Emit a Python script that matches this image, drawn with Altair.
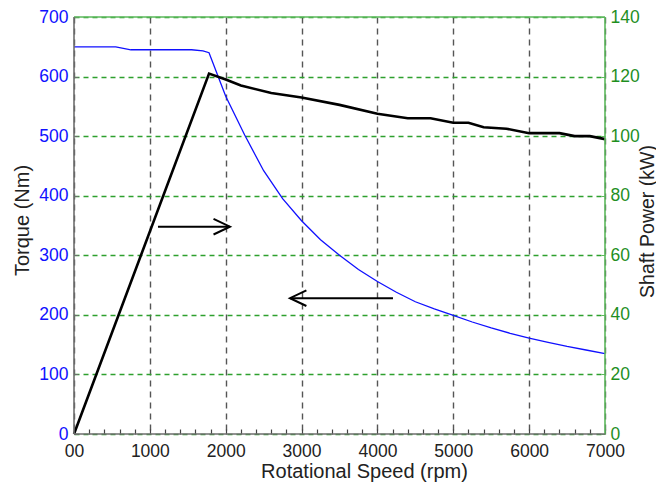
import altair as alt
import pandas as pd

# ---- data ----
torque_rpm = [0, 300, 550, 750, 1000, 1300, 1550, 1700, 1780, 1900, 2000, 2250, 2500, 2750,
              3000, 3250, 3500, 3750, 4000, 4250, 4500, 4750, 5000, 5250, 5500, 5750,
              6000, 6250, 6500, 6750, 7000]
torque_nm = [650, 650, 650, 645, 645, 645, 645, 643, 640, 600, 567, 502, 442, 395,
             358, 326, 300, 276, 256, 238, 222, 210, 199, 188, 178, 169,
             161, 154, 147, 141, 135]

power_rpm = [0, 1780, 2000, 2200, 2600, 3000, 3500, 4000, 4400, 4700, 5000, 5200, 5400,
             5700, 6000, 6400, 6600, 6800, 7000]
power_kw = [0, 121, 119, 117, 114.5, 113, 110.5, 107.5, 106, 106, 104.5, 104.5, 103,
            102.5, 101, 101, 100, 100, 99]

# arrows (rpm start, rpm tip, torque level)
arrow_id = ["right", "right", "left", "left"]
arrow_rpm = [1107, 2056, 4205, 2847]
arrow_torque = [348, 348, 228, 228]
tip_rpm = [2056, 2847]
tip_torque = [348, 228]
tip_angle = [0, 180]

x_major = [0, 1000, 2000, 3000, 4000, 5000, 6000, 7000]
x_minor = list(range(0, 7001, 200))
torque_ticks = [0, 100, 200, 300, 400, 500, 600, 700]
power_ticks = [0, 20, 40, 60, 80, 100, 120, 140]

W, H = 531, 417
FONT = "Liberation Sans"
BLUE = "#1010ff"
GREEN_TXT = "#1f8f1f"
GREEN_GRID = "#2ea02e"
GREEN_BORDER = "#5cb85c"
GRAY = "#6e6e6e"

df_t = pd.DataFrame({"rpm": torque_rpm, "torque": torque_nm})
df_p = pd.DataFrame({"rpm": power_rpm, "power": power_kw})
df_a = pd.DataFrame({"id": arrow_id, "rpm": arrow_rpm, "torque": arrow_torque})
df_tip = pd.DataFrame({"rpm": tip_rpm, "torque": tip_torque, "angle": tip_angle})

xs = alt.Scale(domain=[0, 7000], nice=False, zero=False)
ts = alt.Scale(domain=[0, 700], nice=False)
ps = alt.Scale(domain=[0, 140], nice=False)

main_x_axis = alt.Axis(
    values=x_major, title="Rotational Speed (rpm)", domain=False, ticks=False,
    grid=True, gridColor="#555555", gridDash=[6, 5], gridWidth=1.4,
    labelExpr="datum.value == 0 ? '00' : datum.label", format="d", labelFlush=False,
    labelFont=FONT, labelFontSize=17.5, labelColor="#222222", labelPadding=8,
    titleFont=FONT, titleFontSize=20, titleFontWeight="normal", titleColor="#222222",
    titleX=290, titleY=37, titleBaseline="middle", titleAnchor="start", titleAlign="center",
)
minor_x_axis = alt.Axis(
    values=x_minor, orient="bottom", offset=-5, domain=False, labels=False, grid=False,
    ticks=True, tickSize=5, tickColor="#444444", tickWidth=1.2, title=None,
)
left_axis = alt.Axis(
    values=torque_ticks, orient="left", domain=False, ticks=False, labelFlush=False,
    grid=True, gridColor=GREEN_GRID, gridDash=[5, 4], gridWidth=1.3,
    labelFont=FONT, labelFontSize=17.5, labelColor=BLUE, labelPadding=6,
    title="Torque (Nm)", titleFont=FONT, titleFontSize=20, titleFontWeight="normal",
    titleColor="#222222", titleAngle=270, titleX=-52, titleY=203,
    titleBaseline="middle", titleAlign="center",
)
left_tick_axis = alt.Axis(
    values=torque_ticks, orient="left", offset=-4, domain=False, labels=False, grid=False,
    ticks=True, tickSize=4, tickColor=GRAY, title=None,
)
right_axis = alt.Axis(
    values=power_ticks, orient="right", domain=False, ticks=False, grid=False, labelFlush=False,
    labelFont=FONT, labelFontSize=17.5, labelColor=GREEN_TXT, labelPadding=5,
    title="Shaft Power (kW)", titleFont=FONT, titleFontSize=19.5, titleFontWeight="normal",
    titleColor="#222222", titleAngle=270, titleX=42, titleY=204,
    titleBaseline="middle", titleAlign="center",
)
right_tick_axis = alt.Axis(
    values=power_ticks, orient="right", offset=-4, domain=False, labels=False, grid=False,
    ticks=True, tickSize=4, tickColor=GREEN_BORDER, title=None,
)

torque_line = alt.Chart(df_t).mark_line(color=BLUE, strokeWidth=1.3).encode(
    x=alt.X("rpm:Q", scale=xs, axis=main_x_axis),
    y=alt.Y("torque:Q", scale=ts, axis=left_axis),
)
power_line = alt.Chart(df_p).mark_line(color="black", strokeWidth=2.6).encode(
    x=alt.X("rpm:Q", scale=xs, axis=minor_x_axis),
    y=alt.Y("power:Q", scale=ps, axis=right_axis),
)
left_ticks = alt.Chart(df_t).mark_point(opacity=0).encode(
    x=alt.X("rpm:Q", scale=xs, axis=None),
    y=alt.Y("torque:Q", scale=ts, axis=left_tick_axis),
)
right_ticks = alt.Chart(df_p).mark_point(opacity=0).encode(
    x=alt.X("rpm:Q", scale=xs, axis=None),
    y=alt.Y("power:Q", scale=ps, axis=right_tick_axis),
)
arrow_lines = alt.Chart(df_a).mark_line(color="black", strokeWidth=2).encode(
    x=alt.X("rpm:Q", scale=xs, axis=None),
    y=alt.Y("torque:Q", scale=ts, axis=None),
    detail="id:N",
)
arrow_heads = alt.Chart(df_tip).mark_point(
    shape="M-2,-0.95L0,0L-2,0.95", filled=False, stroke="black", strokeWidth=2,
    size=270, opacity=1,
).encode(
    x=alt.X("rpm:Q", scale=xs, axis=None),
    y=alt.Y("torque:Q", scale=ts, axis=None),
    angle=alt.Angle("angle:Q", scale=None),
)

one = pd.DataFrame({"k": [0]})
def border(x, x2, y, y2, color):
    return alt.Chart(one).mark_rule(color=color, strokeWidth=1.6).encode(
        x=alt.value(x), x2=alt.value(x2), y=alt.value(y), y2=alt.value(y2)
    )

borders = [
    border(0, W, 0, 0, GREEN_BORDER),
    border(W, W, 0, H, GREEN_BORDER),
    border(0, 0, 0, H, GRAY),
    border(0, W, H, H, GRAY),
]

chart = alt.layer(
    torque_line, power_line, left_ticks, right_ticks, arrow_lines, arrow_heads, *borders
).resolve_scale(y="independent").resolve_axis(x="independent", y="independent").properties(
    width=W, height=H,
    autosize=alt.AutoSizeParams(type="none"),
    padding={"left": 66, "top": 9, "right": 51, "bottom": 48},
).configure_view(stroke=None)

chart.save("out.html", embed_options={"renderer": "svg", "actions": False})
